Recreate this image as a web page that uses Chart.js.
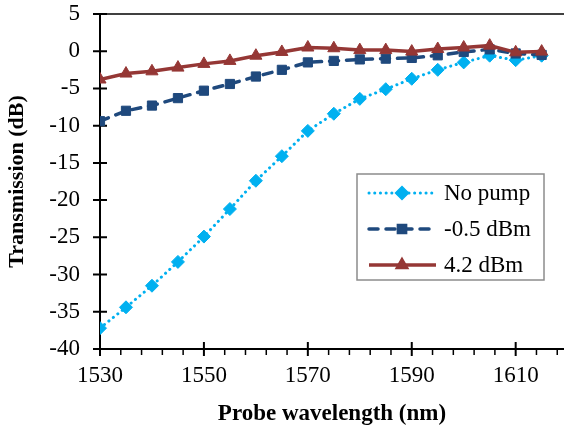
<!DOCTYPE html>
<html lang="en">
<head>
    <meta charset="UTF-8">
    <title>Transmission vs probe wavelength</title>
    <script src="https://cdn.jsdelivr.net/npm/chart.js@4"></script>
    <style>
        html, body { margin: 0; padding: 0; background: #fff; }
        #wrap { width: 564px; height: 431px; }
    </style>
</head>
<body>
    <div id="wrap">
        <canvas id="myChart"></canvas>
    </div>

    <script>
        // datos
        const wavelengths = [1530, 1535, 1540, 1545, 1550, 1555, 1560, 1565, 1570,
            1575, 1580, 1585, 1590, 1595, 1600, 1605, 1610, 1615];
        const noPump = [-37.2, -34.4, -31.5, -28.3, -24.9, -21.2, -17.4, -14.1, -10.7,
            -8.4, -6.4, -5.1, -3.7, -2.5, -1.5, -0.6, -1.2, -0.6];
        const pumpLow = [-9.4, -8.0, -7.3, -6.3, -5.3, -4.4, -3.4, -2.5, -1.5,
            -1.3, -1.1, -1.0, -0.9, -0.55, -0.1, 0.25, -0.3, -0.5];
        const pumpHigh = [-3.8, -3.0, -2.7, -2.2, -1.7, -1.3, -0.6, -0.1, 0.5,
            0.4, 0.15, 0.15, -0.05, 0.3, 0.5, 0.75, -0.15, -0.05];
        const seriesNames = ['No pump', '-0.5 dBm', '4.2 dBm'];
        const xTickLabels = [1530, 1550, 1570, 1590, 1610];
        const xMinorTicks = [1534, 1538, 1542, 1546, 1554, 1558, 1562, 1566, 1574, 1578,
            1582, 1586, 1594, 1598, 1602, 1606, 1614, 1618];
        const yTickLabels = [-40, -35, -30, -25, -20, -15, -10, -5, 0, 5];

        const serif = "'Liberation Serif', 'Times New Roman', serif";
        const toXY = ys => wavelengths.map((x, i) => ({ x: x, y: ys[i] }));

        // ejes con marcas que cruzan la linea
        const axesPlugin = {
            id: 'axes',
            beforeDatasetsDraw(chart) {
                const { ctx, chartArea, scales } = chart;
                const x0 = scales.x.getPixelForValue(1530);
                const yb = scales.y.getPixelForValue(-40);
                ctx.save();
                ctx.strokeStyle = '#000';
                // linea superior
                ctx.lineWidth = 1.5;
                ctx.beginPath();
                ctx.moveTo(x0, chartArea.top);
                ctx.lineTo(chartArea.right, chartArea.top);
                ctx.stroke();
                ctx.lineWidth = 2;
                ctx.beginPath();
                ctx.moveTo(x0, chartArea.top);
                ctx.lineTo(x0, yb);
                ctx.lineTo(chartArea.right, yb);
                yTickLabels.forEach(v => {
                    const p = scales.y.getPixelForValue(v);
                    ctx.moveTo(x0 - 7, p);
                    ctx.lineTo(x0 + 7, p);
                });
                xTickLabels.forEach(v => {
                    const p = scales.x.getPixelForValue(v);
                    ctx.moveTo(p, yb - 7);
                    ctx.lineTo(p, yb + 7);
                });
                ctx.stroke();
                ctx.lineWidth = 1.5;
                ctx.beginPath();
                xMinorTicks.forEach(v => {
                    const p = scales.x.getPixelForValue(v);
                    ctx.moveTo(p, yb);
                    ctx.lineTo(p, yb + 6);
                });
                ctx.stroke();
                ctx.restore();
            }
        };

        // leyenda con linea y marcador
        const legendPlugin = {
            id: 'boxLegend',
            afterDraw(chart) {
                const ctx = chart.ctx;
                const bx = 357, by = 174, bw = 187, bh = 106;
                ctx.save();
                ctx.fillStyle = '#fff';
                ctx.fillRect(bx, by, bw, bh);
                ctx.strokeStyle = '#8c8c8c';
                ctx.lineWidth = 1.5;
                ctx.strokeRect(bx, by, bw, bh);
                chart.data.datasets.forEach((ds, i) => {
                    const y = 193 + i * 36;
                    ctx.save();
                    ctx.strokeStyle = ds.borderColor;
                    ctx.lineWidth = ds.borderWidth;
                    ctx.lineCap = ds.borderCapStyle || 'butt';
                    ctx.setLineDash(ds.borderDash || []);
                    ctx.beginPath();
                    ctx.moveTo(369, y);
                    ctx.lineTo(436, y);
                    ctx.stroke();
                    ctx.restore();
                    ctx.fillStyle = ds.pointBackgroundColor;
                    ctx.strokeStyle = ds.pointBorderColor;
                    Chart.helpers.drawPoint(ctx, {
                        pointStyle: ds.pointStyle,
                        radius: ds.pointRadius,
                        rotation: 0,
                        borderWidth: 1
                    }, 402, y);
                    ctx.fillStyle = '#000';
                    ctx.font = '23px ' + serif;
                    ctx.textBaseline = 'middle';
                    ctx.textAlign = 'left';
                    ctx.fillText(ds.label, 444, y + 1);
                });
                ctx.restore();
            }
        };

        const ctx = document.getElementById('myChart');

        new Chart(ctx, {
            type: 'line',
            data: {
                datasets: [{
                    label: seriesNames[0],
                    data: toXY(noPump),
                    order: 2,
                    borderColor: '#00B0F0',
                    borderWidth: 3,
                    borderDash: [0.1, 5.6],
                    borderCapStyle: 'round',
                    pointStyle: 'rectRot',
                    pointRadius: 6.5,
                    pointBackgroundColor: '#00B0F0',
                    pointBorderColor: '#00B0F0',
                    pointBorderWidth: 1,
                    tension: 0
                }, {
                    label: seriesNames[1],
                    data: toXY(pumpLow),
                    order: 1,
                    borderColor: '#1F497D',
                    borderWidth: 3.5,
                    borderDash: [9, 8],
                    borderCapStyle: 'round',
                    pointStyle: 'rect',
                    pointRadius: 6.5,
                    pointBackgroundColor: '#1F497D',
                    pointBorderColor: '#1F497D',
                    pointBorderWidth: 1,
                    tension: 0
                }, {
                    label: seriesNames[2],
                    data: toXY(pumpHigh),
                    order: 0,
                    borderColor: '#953735',
                    borderWidth: 3.5,
                    pointStyle: 'triangle',
                    pointRadius: 7,
                    pointBackgroundColor: '#953735',
                    pointBorderColor: '#953735',
                    pointBorderWidth: 1,
                    tension: 0
                }]
            },
            options: {
                responsive: true,
                maintainAspectRatio: false,
                animation: false,
                layout: {
                    autoPadding: false,
                    padding: { top: 14, right: 0, left: 0, bottom: 0 }
                },
                plugins: {
                    legend: { display: false },
                    tooltip: { enabled: false }
                },
                scales: {
                    x: {
                        type: 'linear',
                        min: 1530,
                        max: 1619.3,
                        afterBuildTicks: s => { s.ticks = xTickLabels.map(v => ({ value: v })); },
                        afterFit: s => {
                            s.height = 82;
                            s.paddingLeft = 0;
                            s.paddingRight = 0;
                        },
                        grid: { display: false, drawTicks: false },
                        border: { display: false },
                        ticks: {
                            color: '#000',
                            font: { family: serif, size: 23 },
                            padding: 13,
                            autoSkip: false,
                            maxRotation: 0,
                            callback: v => String(v)
                        },
                        title: {
                            display: true,
                            text: 'Probe wavelength (nm)',
                            color: '#000',
                            font: { family: serif, size: 23, weight: 'bold' },
                            padding: { top: 0, bottom: 3 }
                        }
                    },
                    y: {
                        min: -40,
                        max: 5,
                        afterBuildTicks: s => { s.ticks = yTickLabels.map(v => ({ value: v })); },
                        afterFit: s => {
                            s.width = 100;
                            s.paddingTop = 0;
                            s.paddingBottom = 0;
                        },
                        grid: { display: false, drawTicks: false },
                        border: { display: false },
                        ticks: {
                            color: '#000',
                            font: { family: serif, size: 23 },
                            padding: 20
                        },
                        title: {
                            display: true,
                            text: 'Transmission (dB)',
                            color: '#000',
                            font: { family: serif, size: 22, weight: 'bold' },
                            padding: { top: 4, bottom: 0 }
                        }
                    }
                }
            },
            plugins: [axesPlugin, legendPlugin]
        });
    </script>
</body>
</html>
